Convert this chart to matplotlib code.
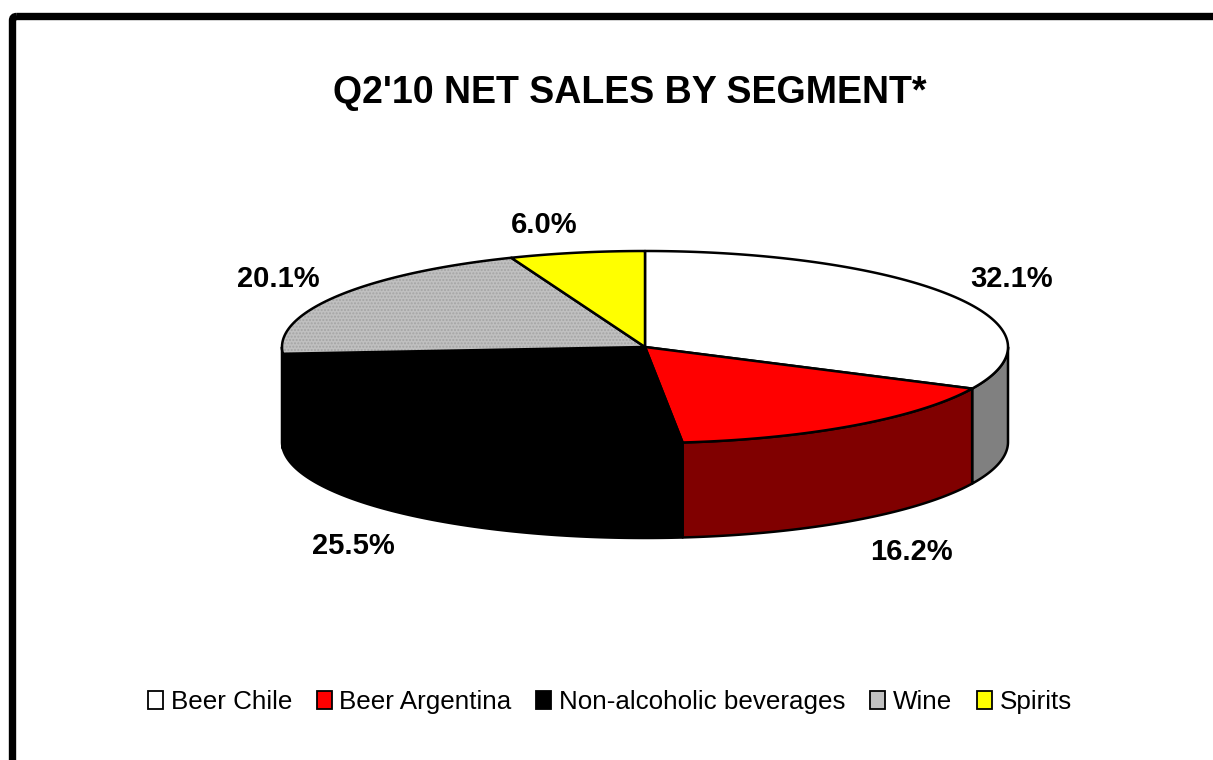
import numpy as np
import matplotlib
matplotlib.use('Agg')
import matplotlib.pyplot as plt
from matplotlib.patches import Polygon, Patch, FancyBboxPatch

segments = ['Beer Chile', 'Beer Argentina', 'Non-alcoholic beverages', 'Wine', 'Spirits']
shares = [32.1, 16.2, 25.5, 20.1, 6.0]
labels = ['32.1%', '16.2%', '25.5%', '20.1%', '6.0%']
top_colors = ['#FFFFFF', '#FF0000', '#000000', '#C0C0C0', '#FFFF00']
side_colors = ['#808080', '#800000', '#000000', '#606060', '#808000']

plt.rcParams['font.family'] = ['Liberation Sans', 'DejaVu Sans']

W, H = 1213, 760
fig = plt.figure(figsize=(W / 100, H / 100), dpi=100)
ax = fig.add_axes([0, 0, 1, 1])
ax.set_xlim(0, W)
ax.set_ylim(H, 0)
ax.axis('off')

# outer frame (runs off the right and bottom edges)
frame = FancyBboxPatch((12.5, 16.5), W + 40, H + 40,
                       boxstyle='round,pad=0,rounding_size=4',
                       fill=False, ec='black', lw=5.3)
ax.add_patch(frame)

ax.text(630, 103, "Q2'10 NET SALES BY SEGMENT*", ha='center', va='baseline',
        fontsize=27, fontweight='bold')

# pie geometry (pixel units)
cx, cy = 645, 347
a, b = 363, 96
depth = 95

def pt(t):
    # t in degrees clockwise from 12 o'clock
    r = np.radians(t)
    return cx + a * np.sin(r), cy - b * np.cos(r)

bounds = np.concatenate([[0], np.cumsum(shares)]) / np.sum(shares) * 360.0

# side walls (front half only: 90..270)
for i in range(len(shares)):
    t1, t2 = max(bounds[i], 90), min(bounds[i + 1], 270)
    if t2 <= t1:
        continue
    ts = np.linspace(t1, t2, 120)
    xs, ys = pt(ts)
    verts = np.column_stack([np.r_[xs, xs[::-1]], np.r_[ys, ys[::-1] + depth]])
    ax.add_patch(Polygon(verts, closed=True, fc=side_colors[i], ec='black',
                         lw=1.8, joinstyle='round'))

# top wedges
for i in range(len(shares)):
    ts = np.linspace(bounds[i], bounds[i + 1], 200)
    xs, ys = pt(ts)
    verts = np.column_stack([np.r_[cx, xs], np.r_[cy, ys]])
    ax.add_patch(Polygon(verts, closed=True, fc=top_colors[i], ec='none'))
    if segments[i] == 'Wine':
        ax.add_patch(Polygon(verts, closed=True, fill=False, ec='#a4a4a4',
                             lw=0, hatch='.....'))
    ax.add_patch(Polygon(verts, closed=True, fill=False, ec='black',
                         lw=1.8, joinstyle='round'))

# value labels, pushed out from the rim at each slice's middle
for i in range(len(shares)):
    tm = (bounds[i] + bounds[i + 1]) / 2
    ex, ey = pt(tm)
    s, c = np.sin(np.radians(tm)), np.cos(np.radians(tm))
    if c < 0:
        ey += depth
    lx = ex + 60 * np.tanh(3.2 * s)
    ly = ey - 32 * np.sign(c) * abs(c) ** 0.7 + 4
    ax.text(lx, ly, labels[i], ha='center', va='center', fontsize=21,
            fontweight='bold')

handles = [Patch(fc=c, ec='black', lw=1.3) for c in top_colors]
fig.legend(handles, segments, loc='center', bbox_to_anchor=(610 / W, 1 - 702 / H),
           ncol=5, frameon=False, fontsize=18.7, handlelength=0.58,
           handleheight=0.66, handletextpad=0.3, columnspacing=0.95,
           borderaxespad=0)

fig.savefig('out.png', dpi=100)
